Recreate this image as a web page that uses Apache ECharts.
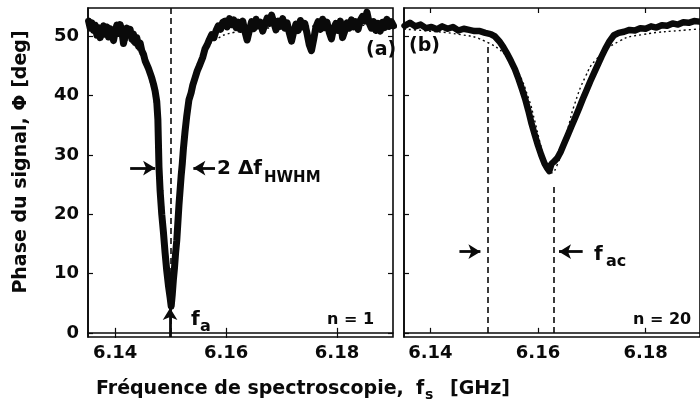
<!DOCTYPE html>
<html><head><meta charset="utf-8">
<script src="https://cdn.jsdelivr.net/npm/echarts@6/dist/echarts.min.js"></script>
<style>html,body{margin:0;padding:0;background:#fff}#c{width:700px;height:403px}</style>
</head><body><div id="c"></div>
<script>
// ---- Panel (a): n = 1, measured phase (noisy) ----
const freqA = [6.1352,6.1355,6.1358,6.1361,6.1364,6.1367,6.1370,6.1373,6.1376,6.1379,6.1382,6.1385,6.1388,6.1391,6.1394,6.1397,6.1400,6.1403,6.1406,6.1409,6.1412,6.1415,6.1418,6.1421,6.1424,6.1427,6.1430,6.1433,6.1436,6.1439,6.1442,6.1445,6.1448,6.1451,6.1454,6.1457,6.1460,6.1463,6.1466,6.1469,6.1472,6.1475,6.1477,6.1478,6.1479,6.1481,6.1484,6.1487,6.1490,6.1493,6.1496,6.1499,6.1501,6.1503,6.1505,6.1507,6.1509,6.1511,6.1513,6.1515,6.1517,6.1519,6.1521,6.1523,6.1526,6.1529,6.1533,6.1537,6.1540,6.1544,6.1548,6.1553,6.1558,6.1562,6.1566,6.1570,6.1574,6.1578,6.1582,6.1586,6.1590,6.1594,6.1598,6.1602,6.1606,6.1610,6.1614,6.1618,6.1622,6.1626,6.1630,6.1634,6.1638,6.1642,6.1646,6.1650,6.1654,6.1658,6.1662,6.1666,6.1670,6.1674,6.1678,6.1682,6.1686,6.1690,6.1694,6.1698,6.1702,6.1706,6.1710,6.1714,6.1718,6.1722,6.1726,6.1730,6.1734,6.1738,6.1742,6.1746,6.1750,6.1754,6.1758,6.1762,6.1766,6.1770,6.1774,6.1778,6.1782,6.1786,6.1790,6.1794,6.1798,6.1802,6.1806,6.1810,6.1814,6.1818,6.1822,6.1826,6.1830,6.1834,6.1838,6.1842,6.1846,6.1850,6.1854,6.1858,6.1862,6.1866,6.1870,6.1874,6.1878,6.1882,6.1886,6.1890,6.1894,6.1898,6.1902];
const phaseA = [52.6,51.4,52.3,51.0,51.9,50.2,51.5,49.8,50.9,51.8,50.4,51.6,49.9,51.3,50.6,49.3,50.8,51.9,50.5,52.0,50.9,48.8,50.1,51.4,50.3,51.2,49.6,50.4,49.0,49.8,48.4,48.9,47.6,47.0,45.9,46.2,44.6,43.8,43.0,42.0,40.8,39.0,36.0,32.0,28.0,24.0,20.0,17.0,13.5,10.5,8.0,6.0,4.5,6.5,9.0,11.0,13.5,15.5,18.5,21.5,24.0,26.5,28.5,31.0,34.0,36.5,39.3,40.5,41.8,43.0,44.2,45.3,46.5,47.9,48.6,49.5,50.3,49.8,51.0,51.8,51.2,52.4,52.6,51.6,53.0,52.0,52.8,51.5,52.4,51.2,52.6,50.8,49.4,51.0,52.5,51.3,52.9,51.8,52.4,50.9,52.0,53.1,52.2,53.6,52.4,51.1,52.6,51.7,53.0,51.4,52.3,50.6,49.2,50.8,52.1,51.0,52.7,51.6,52.2,50.5,48.6,47.6,49.5,51.6,52.5,51.2,52.9,51.5,52.4,50.7,49.6,51.4,52.2,51.0,52.6,49.8,50.9,52.3,51.4,52.8,51.6,52.5,51.2,52.7,53.4,52.6,54.1,52.3,51.4,52.5,51.0,52.2,50.9,52.4,51.5,52.9,51.7,52.5,51.8];
// ---- Panel (a): fit (dotted) ----
const fitFreqA = [6.1351,6.1387,6.1425,6.1444,6.1463,6.14725,6.1482,6.14868,6.14915,6.14963,6.1501,6.15058,6.15105,6.15153,6.1520,6.15295,6.1539,6.1558,6.1577,6.1615,6.1691,6.1800,6.1905];
const fitA = [51.25,50.7,49.2,47.25,42.5,37.4,28.25,21.6,14.0,7.3,4.5,7.3,14.0,21.6,28.25,37.4,42.5,47.25,49.2,50.7,51.5,51.8,51.9];

// ---- Panel (b): n = 20, measured phase ----
const freqB = [6.1352,6.1362,6.1372,6.1382,6.1392,6.1402,6.1412,6.1422,6.1432,6.1442,6.1452,6.1462,6.1472,6.1482,6.1492,6.1502,6.1512,6.1520,6.1528,6.1535,6.1542,6.1550,6.1557,6.1564,6.1570,6.1576,6.1582,6.1588,6.1594,6.1600,6.1606,6.1612,6.1617,6.1621,6.1625,6.1630,6.1636,6.1642,6.1648,6.1655,6.1662,6.1669,6.1676,6.1683,6.1690,6.1697,6.1704,6.1711,6.1718,6.1725,6.1733,6.1741,6.1750,6.1760,6.1770,6.1780,6.1790,6.1800,6.1810,6.1820,6.1830,6.1840,6.1850,6.1860,6.1870,6.1880,6.1890,6.1900];
const phaseB = [51.8,52.3,51.7,52.0,51.4,51.6,51.2,51.7,51.3,51.6,51.0,51.3,51.1,50.9,50.9,50.6,50.4,50.0,49.2,48.3,47.2,45.8,44.5,42.8,41.2,39.5,37.5,35.3,33.4,31.6,30.0,28.6,27.8,27.3,28.5,28.9,29.5,30.5,31.8,33.3,34.8,36.3,37.8,39.4,40.9,42.4,43.8,45.2,46.6,47.9,49.2,50.2,50.6,50.8,51.1,51.0,51.4,51.3,51.7,51.5,51.9,51.8,52.2,52.0,52.4,52.3,52.6,52.5];
// ---- Panel (b): fit (dotted) ----
const fitFreqB = [6.1351,6.1373,6.1457,6.1499,6.1541,6.1562,6.1583,6.15935,6.1604,6.16145,6.1625,6.16355,6.1646,6.16565,6.1667,6.1688,6.1709,6.1751,6.1793,6.1877,6.1905];
const fitB = [51.2,51.1,50.3,49.3,46.8,44.2,39.4,35.9,32.0,28.5,27.0,28.3,31.4,34.8,38.3,43.2,46.2,49.2,50.3,51.1,51.25];

// ---- markers ----
const faFreq = 6.1501;     // f_a
const facFreq = 6.1629;    // f_ac
const hwhmLevel = 27.8;    // level of the 2Δf arrows
const hwhmArrowL = [6.1427, 6.1472];
const hwhmArrowR = [6.1580, 6.1541];
const acLevel = 13.7;
const acArrowL = [6.1454, 6.1493];
const acArrowR = [6.1683, 6.1639];
const dashTopB1 = 48.2, dashTopB2 = 24.6;

const xTicks = [6.14, 6.16, 6.18];
const yTicks = [0, 10, 20, 30, 40, 50];
const X_MIN = 6.1351, X_MAX = 6.1901, Y_MIN = -0.7, Y_MAX = 54.8;

const pairs = (xs, ys) => xs.map((x, i) => [x, ys[i]]);
const FONT = 'DejaVu Sans';
const INK = '#0a0a0a';

function xAxisDef(gi, pos, labels) {
  return {
    type: 'value', gridIndex: gi, min: X_MIN, max: X_MAX, position: pos,
    axisLine: { show: pos === 'bottom', lineStyle: { color: INK, width: 1.6 } },
    axisTick: { show: true, inside: true, length: 5, customValues: xTicks, lineStyle: { color: INK, width: 1.2 } },
    axisLabel: { show: labels, customValues: xTicks, formatter: v => v.toFixed(2), color: INK, fontFamily: FONT, fontWeight: 'bold', fontSize: 18, margin: 7 },
    splitLine: { show: false }
  };
}
function yAxisDef(gi, pos, labels) {
  return {
    type: 'value', gridIndex: gi, min: Y_MIN, max: Y_MAX, position: pos,
    axisLine: { show: pos === 'left', lineStyle: { color: INK, width: 1.6 } },
    axisTick: { show: true, inside: true, length: 5, customValues: yTicks, lineStyle: { color: INK, width: 1.2 } },
    axisLabel: { show: labels, customValues: yTicks, color: INK, fontFamily: FONT, fontWeight: 'bold', fontSize: 18, margin: 9 },
    splitLine: { show: false }
  };
}
const dashStyle = { color: INK, width: 1.6, type: [6, 4] };
const arrowStyle = { color: INK, width: 2.8, type: 'solid' };
function arrow(x1, x2, y1, y2) {
  return [{ coord: [x1, y1], lineStyle: arrowStyle, symbol: 'none' }, { coord: [x2, y2], symbol: 'arrow', symbolSize: [11, 12] }];
}
function txt(x, y, text, size, extra) {
  return Object.assign({ type: 'text', x: x, y: y, style: { text: text, fill: INK, font: 'bold ' + size + 'px "DejaVu Sans"', align: 'left', verticalAlign: 'middle' } }, extra || {});
}

const chart = echarts.init(document.getElementById('c'));
chart.setOption({
  animation: false,
  backgroundColor: '#fff',
  grid: [
    { left: 88, top: 8, width: 305, height: 329, show: true, borderColor: INK, borderWidth: 1.6, backgroundColor: 'transparent' },
    { left: 404, top: 8, width: 305, height: 329, show: true, borderColor: INK, borderWidth: 1.6, backgroundColor: 'transparent' }
  ],
  xAxis: [xAxisDef(0, 'bottom', true), xAxisDef(1, 'bottom', true), xAxisDef(0, 'top', false), xAxisDef(1, 'top', false)],
  yAxis: [yAxisDef(0, 'left', true), yAxisDef(1, 'left', false), yAxisDef(0, 'right', false)],
  series: [
    { type: 'line', xAxisIndex: 0, yAxisIndex: 0, data: pairs(fitFreqA, fitA), showSymbol: false, smooth: true, z: 1,
      lineStyle: { color: INK, width: 1.4, type: [2, 3] } },
    { type: 'line', xAxisIndex: 0, yAxisIndex: 0, data: pairs(freqA, phaseA), showSymbol: false, z: 2,
      lineStyle: { color: INK, width: 7, join: 'round', cap: 'round' },
      markLine: { silent: true, symbol: ['none', 'none'], label: { show: false }, lineStyle: dashStyle,
        data: [
          [{ coord: [faFreq, Y_MAX], lineStyle: dashStyle }, { coord: [faFreq, Y_MIN] }],
          arrow(hwhmArrowL[0], hwhmArrowL[1], hwhmLevel, hwhmLevel),
          arrow(hwhmArrowR[0], hwhmArrowR[1], hwhmLevel, hwhmLevel),
          arrow(faFreq - 0.0002, faFreq - 0.0002, Y_MIN, 4.2)
        ] } },
    { type: 'line', xAxisIndex: 1, yAxisIndex: 1, data: pairs(fitFreqB, fitB), showSymbol: false, smooth: true, z: 1,
      lineStyle: { color: INK, width: 1.4, type: [2, 3] } },
    { type: 'line', xAxisIndex: 1, yAxisIndex: 1, data: pairs(freqB, phaseB), showSymbol: false, z: 2,
      lineStyle: { color: INK, width: 6.5, join: 'round', cap: 'round' },
      markLine: { silent: true, symbol: ['none', 'none'], label: { show: false }, lineStyle: dashStyle,
        data: [
          [{ coord: [faFreq + 0.0005, dashTopB1], lineStyle: dashStyle }, { coord: [faFreq + 0.0005, Y_MIN] }],
          [{ coord: [facFreq, dashTopB2], lineStyle: dashStyle }, { coord: [facFreq, Y_MIN] }],
          arrow(acArrowL[0], acArrowL[1], acLevel, acLevel),
          arrow(acArrowR[0], acArrowR[1], acLevel, acLevel)
        ] } }
  ],
  graphic: [
    { type: 'text', x: 21, y: 162, rotation: Math.PI / 2, style: { text: 'Phase du signal, Φ [deg]', fill: INK, font: 'bold 19px "DejaVu Sans"', align: 'center', verticalAlign: 'middle' } },
    txt(96, 389, 'Fréquence de spectroscopie,', 19),
    txt(416, 389, 'f', 19),
    txt(425, 395, 's', 14),
    txt(450, 389, '[GHz]', 19),
    txt(366, 50, '(a)', 19),
    txt(409, 46, '(b)', 19),
    txt(217, 169, '2 Δf', 20),
    txt(264, 178, 'HWHM', 15),
    txt(191, 320, 'f', 20),
    txt(200, 327, 'a', 16),
    txt(594, 255, 'f', 20),
    txt(606, 262, 'ac', 16),
    txt(327, 320, 'n = 1', 16),
    txt(633, 320, 'n = 20', 16)
  ]
});
</script></body></html>
